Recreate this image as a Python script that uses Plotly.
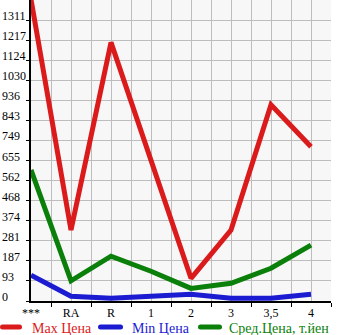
import plotly.graph_objects as go

categories = ["***", "RA", "R", "1", "2", "3", "3,5", "4"]
max_price = [1408, 331, 1207, 659, 106, 331, 916, 720]
min_price = [120, 22, 13, 22, 31, 13, 13, 31]
avg_price = [612, 94, 209, 139, 59, 83, 153, 261]
series_names = ["Max Цена", "Min Цена", "Сред.Цена, т.йен"]
series_colors = ["#db1b1b", "#1b1bd2", "#0a7f0a"]
y_step = 1405 / 15
y_labels = ["0", "93", "187", "281", "374", "468", "562", "655", "749",
            "843", "936", "1030", "1124", "1217", "1311"]

W, H = 345, 335
L, R, T, B = 31, 14, 0, 34
PW = W - L - R
PH = H - T - B

xs = list(range(len(categories)))
fig = go.Figure()
for name, vals, col in zip(series_names, [max_price, min_price, avg_price], series_colors):
    fig.add_trace(go.Scatter(x=xs, y=vals, mode="lines", name=name,
                             line=dict(color=col, width=5), showlegend=False))

serif = "Liberation Serif"
annotations = []
yvals = [i * y_step for i in range(len(y_labels))]
for v, t in zip(yvals, y_labels):
    annotations.append(dict(xref="paper", yref="y", x=-L / PW, y=v, text=t,
                            xanchor="left", yanchor="middle", yshift=4,
                            showarrow=False, font=dict(family=serif, size=12, color="black")))

# manual legend
legend_marks = [(2.5, 19.5, 30), (100.5, 120.5, 130), (200.5, 219.5, 227)]
shapes = []
cy = 327
for (x0, x1, tx), name, col in zip(legend_marks, series_names, series_colors):
    r = 2.5
    a0, a1 = x0 - L, x1 - L
    yy = (T + PH) - cy  # pixels up from plot bottom
    path = (f"M{a0},{yy-r} L{a1},{yy-r} Q{a1+r},{yy-r} {a1+r},{yy} Q{a1+r},{yy+r} {a1},{yy+r} "
            f"L{a0},{yy+r} Q{a0-r},{yy+r} {a0-r},{yy} Q{a0-r},{yy-r} {a0},{yy-r} Z")
    shapes.append(dict(type="path", xref="paper", yref="paper", xsizemode="pixel",
                       ysizemode="pixel", xanchor=0, yanchor=0, path=path,
                       fillcolor=col, line=dict(width=0)))
    annotations.append(dict(xref="paper", yref="paper", x=(tx - L) / PW,
                            y=((T + PH) - 328.5) / PH, text=name, xanchor="left",
                            yanchor="middle", showarrow=False,
                            font=dict(family=serif, size=14, color=col)))

fig.update_layout(
    width=W, height=H, margin=dict(l=L, r=R, t=T, b=B),
    paper_bgcolor="white", plot_bgcolor="#f7f7f7",
    showlegend=False, annotations=annotations, shapes=shapes,
    xaxis=dict(range=[0, 7.5], tickvals=xs, ticktext=categories, ticks="",
               showgrid=True, gridcolor="#bdbdbd", gridwidth=1,
               showline=True, linecolor="black", linewidth=2, zeroline=False,
               tickfont=dict(family=serif, size=12, color="black"),
               minor=dict(tickvals=[i + 0.5 for i in xs], ticks="outside", ticklen=4,
                          tickcolor="black", showgrid=True, gridcolor="#bdbdbd", gridwidth=1),
               fixedrange=True),
    yaxis=dict(range=[0, 1405], tickvals=yvals, showticklabels=False, ticks="outside",
               ticklen=3, tickcolor="black", showgrid=True, gridcolor="#bdbdbd",
               gridwidth=1, showline=True, linecolor="black", linewidth=2,
               zeroline=False, fixedrange=True),
)
fig.write_html("out.html")
